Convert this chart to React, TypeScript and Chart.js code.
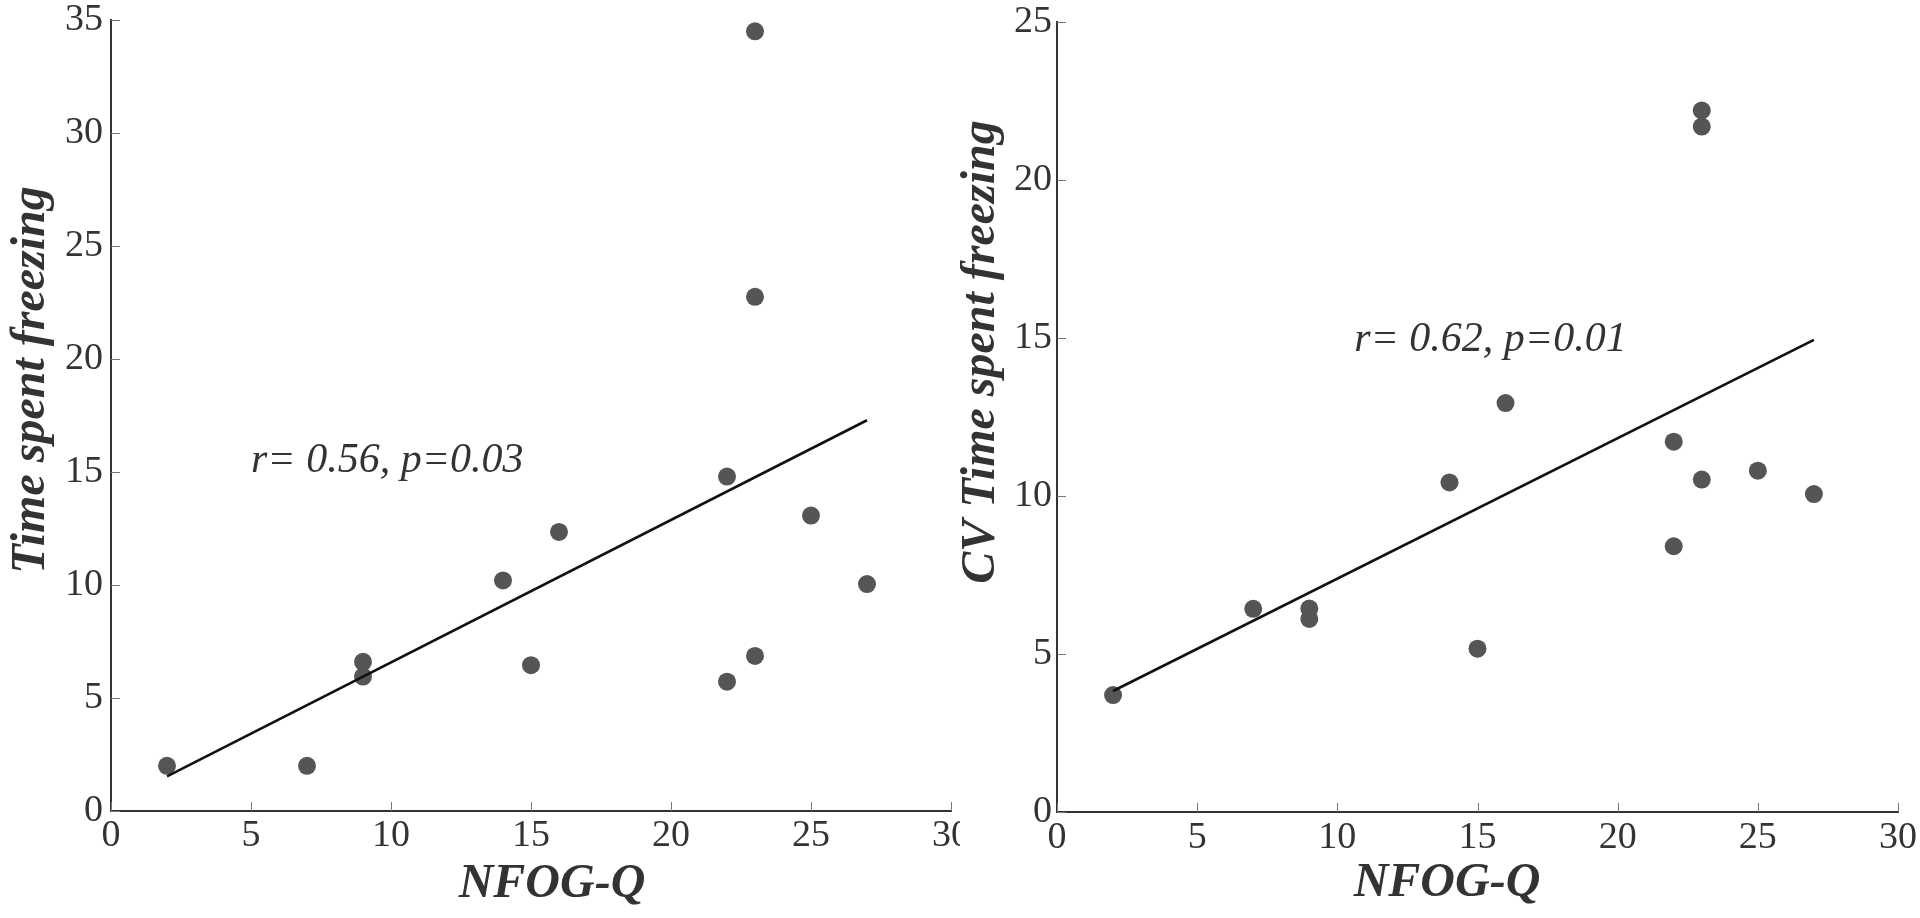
import React, { useEffect, useRef } from "react";
import { Chart, registerables } from "chart.js";

Chart.register(...registerables);

// ---- data ----
const nfogQ = [2, 7, 9, 9, 14, 15, 16, 22, 22, 23, 23, 23, 25, 27];
const timeSpentFreezing = [2.0, 2.0, 6.6, 5.95, 10.2, 6.45, 12.35, 14.8, 5.72, 34.5, 22.75, 6.86, 13.07, 10.04];
const cvTimeSpentFreezing = [3.7, 6.43, 6.44, 6.11, 10.43, 5.17, 12.94, 11.72, 8.41, 22.2, 21.69, 10.52, 10.8, 10.06];

const fitLeftX = [2, 27];
const fitLeftY = [1.53, 17.29];
const fitRightX = [2, 27];
const fitRightY = [3.83, 14.94];

const xTickMax = 30;
const leftYMax = 35;
const rightYMax = 25;
const tickStep = 5;

const xTitle = "NFOG-Q";
const leftYTitle = "Time spent freezing";
const rightYTitle = "CV Time spent freezing";
const leftNote = "r= 0.56, p=0.03";
const rightNote = "r= 0.62, p=0.01";
const leftNoteAt = [5, 15];
const rightNoteAt = [10.6, 14.6];

const FONT = '"Liberation Serif", "Times New Roman", serif';
const INK = "#333333";

const decorPlugin = {
  id: "decor",
  afterDraw(chart: any, _args: any, opts: any) {
    const { ctx, chartArea, scales } = chart;
    const x = scales.x;
    const y = scales.y;
    ctx.save();
    // inward tick marks
    ctx.strokeStyle = "#777777";
    ctx.lineWidth = 1;
    x.ticks.forEach((t: any) => {
      const px = Math.round(x.getPixelForValue(t.value)) + 0.5;
      ctx.beginPath();
      ctx.moveTo(px, chartArea.bottom);
      ctx.lineTo(px, chartArea.bottom - 9);
      ctx.stroke();
    });
    y.ticks.forEach((t: any) => {
      const py = Math.round(y.getPixelForValue(t.value)) + 0.5;
      ctx.beginPath();
      ctx.moveTo(chartArea.left, py);
      ctx.lineTo(chartArea.left + 9, py);
      ctx.stroke();
    });
    // annotation
    ctx.fillStyle = INK;
    ctx.font = `italic 42px ${FONT}`;
    ctx.textAlign = "left";
    ctx.textBaseline = "alphabetic";
    ctx.fillText(opts.note, x.getPixelForValue(opts.noteX), y.getPixelForValue(opts.noteY));
    // axis titles
    ctx.font = `italic bold 48px ${FONT}`;
    ctx.textAlign = "center";
    ctx.fillText(opts.xTitle, opts.xTitleCx, opts.xTitleBase);
    ctx.translate(opts.yTitleCx, opts.yTitleCy);
    ctx.rotate(-Math.PI / 2);
    ctx.textBaseline = "middle";
    ctx.fillText(opts.yTitle, 0, 0);
    ctx.restore();
  },
};

type PanelProps = {
  ys: number[];
  fitX: number[];
  fitY: number[];
  yMax: number;
  yTitle: string;
  note: string;
  noteAt: number[];
  left: number;
  axisLeft: number;
  areaRight: number;
  areaTop: number;
  areaBottom: number;
  yLabelPad: number;
  xLabelPad: number;
  xTitleCx: number;
  xTitleBase: number;
  yTitleCx: number;
  yTitleCy: number;
};

function Panel(p: PanelProps) {
  const ref = useRef<HTMLCanvasElement | null>(null);
  useEffect(() => {
    if (!ref.current) return;
    const W = 960;
    const H = 918;
    const chart = new Chart(ref.current, {
      type: "scatter",
      data: {
        datasets: [
          {
            type: "line",
            data: p.fitX.map((v, i) => ({ x: v, y: p.fitY[i] })),
            borderColor: "#111111",
            borderWidth: 2.6,
            pointRadius: 0,
            fill: false,
          } as any,
          {
            data: nfogQ.map((v, i) => ({ x: v, y: p.ys[i] })),
            backgroundColor: "#555555",
            borderWidth: 0,
            pointRadius: 9,
            clip: false,
          } as any,
        ],
      },
      options: {
        responsive: false,
        animation: false,
        devicePixelRatio: 1,
        layout: { padding: { top: p.areaTop, right: W - p.areaRight, left: 0, bottom: 0 } },
        plugins: {
          legend: { display: false },
          tooltip: { enabled: false },
          decor: {
            note: p.note,
            noteX: p.noteAt[0],
            noteY: p.noteAt[1],
            xTitle,
            xTitleCx: p.xTitleCx,
            xTitleBase: p.xTitleBase,
            yTitle: p.yTitle,
            yTitleCx: p.yTitleCx,
            yTitleCy: p.yTitleCy,
          },
        } as any,
        scales: {
          x: {
            type: "linear",
            min: 0,
            max: xTickMax,
            ticks: {
              stepSize: tickStep,
              color: INK,
              font: { family: FONT, size: 38, lineHeight: 1.2 },
              padding: p.xLabelPad,
              maxRotation: 0,
            },
            grid: { display: true, drawOnChartArea: false, drawTicks: false },
            border: { display: true, color: INK, width: 2 },
            afterFit: (s: any) => {
              s.height = H - p.areaBottom;
              s.paddingLeft = 0;
              s.paddingRight = 0;
            },
          },
          y: {
            type: "linear",
            min: 0,
            max: p.yMax,
            ticks: {
              stepSize: tickStep,
              color: INK,
              font: { family: FONT, size: 38, lineHeight: 1.2 },
              padding: p.yLabelPad,
            },
            grid: { display: true, drawOnChartArea: false, drawTicks: false },
            border: { display: true, color: INK, width: 2 },
            afterFit: (s: any) => {
              s.width = p.axisLeft;
              s.paddingTop = 0;
              s.paddingBottom = 0;
            },
          },
        },
      } as any,
      plugins: [decorPlugin as any],
    });
    return () => chart.destroy();
  }, []);
  return (
    <canvas
      ref={ref}
      width={960}
      height={918}
      style={{ position: "absolute", left: p.left, top: 0, width: 960, height: 918 }}
    />
  );
}

export default function App() {
  return (
    <div style={{ position: "absolute", left: 0, top: 0, width: 1920, height: 918, background: "#ffffff", overflow: "hidden" }}>
      <Panel
        ys={timeSpentFreezing}
        fitX={fitLeftX}
        fitY={fitLeftY}
        yMax={leftYMax}
        yTitle={leftYTitle}
        note={leftNote}
        noteAt={leftNoteAt}
        left={0}
        axisLeft={111}
        areaRight={953}
        areaTop={20}
        areaBottom={811}
        yLabelPad={8}
        xLabelPad={2}
        xTitleCx={552}
        xTitleBase={897}
        yTitleCx={32}
        yTitleCy={380}
      />
      <Panel
        ys={cvTimeSpentFreezing}
        fitX={fitRightX}
        fitY={fitRightY}
        yMax={rightYMax}
        yTitle={rightYTitle}
        note={rightNote}
        noteAt={rightNoteAt}
        left={960}
        axisLeft={97}
        areaRight={938}
        areaTop={22}
        areaBottom={812}
        yLabelPad={5}
        xLabelPad={3}
        xTitleCx={487}
        xTitleBase={896}
        yTitleCx={22}
        yTitleCy={352}
      />
    </div>
  );
}
